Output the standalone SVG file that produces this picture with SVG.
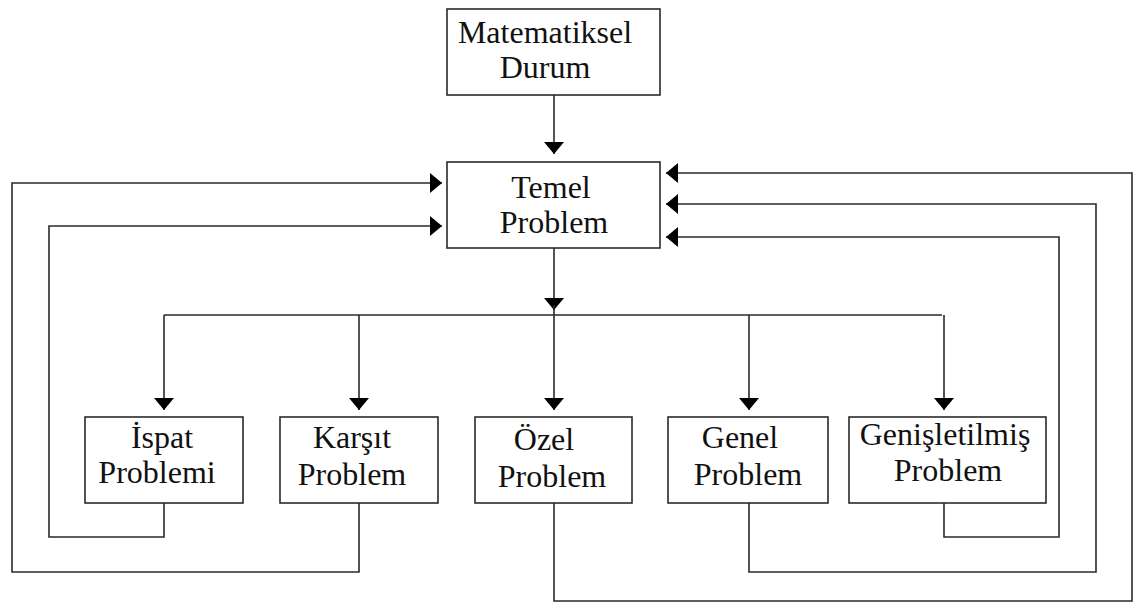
<svg xmlns="http://www.w3.org/2000/svg" width="1140" height="603" viewBox="0 0 1140 603">
<style>
.box{fill:#fff;stroke:#2a2a2a;stroke-width:1.6}
.ln{fill:none;stroke:#2a2a2a;stroke-width:1.6}
.t{font-family:"Liberation Serif","Times New Roman",serif;font-size:32px;fill:#111;text-anchor:middle}
</style>
<defs>
<marker id="ah" markerUnits="userSpaceOnUse" markerWidth="12" markerHeight="20" refX="12" refY="10" orient="auto" viewBox="0 0 12 20">
<path d="M0,0 L12,10 L0,20 z" fill="#000"/>
</marker>
</defs>
<rect width="1140" height="603" fill="#fff"/>
<g id="connectors">
<path class="ln" d="M554,95 V154" marker-end="url(#ah)"/>
<path class="ln" d="M554,248 V310" marker-end="url(#ah)"/>
<path class="ln" d="M554,305 V315"/>
<path class="ln" d="M164,315 H942"/>
<path class="ln" d="M164,315 V410" marker-end="url(#ah)"/>
<path class="ln" d="M359,315 V410" marker-end="url(#ah)"/>
<path class="ln" d="M554,315 V410" marker-end="url(#ah)"/>
<path class="ln" d="M749,315 V410" marker-end="url(#ah)"/>
<path class="ln" d="M944,315 V410" marker-end="url(#ah)"/>
<path class="ln" d="M164,503 V537 H49 V226 H442" marker-end="url(#ah)"/>
<path class="ln" d="M359,503 V572 H12 V183 H442" marker-end="url(#ah)"/>
<path class="ln" d="M554,503 V601 H1132 V173 H666" marker-end="url(#ah)"/>
<path class="ln" d="M749,503 V572 H1096 V204 H666" marker-end="url(#ah)"/>
<path class="ln" d="M944,503 V537 H1059 V237 H666" marker-end="url(#ah)"/>
</g>
<g id="matematiksel">
<rect class="box" x="447" y="9" width="213" height="86"/>
<text class="t" x="545" y="43">Matematiksel</text>
<text class="t" x="545" y="78">Durum</text>
</g>
<g id="temel">
<rect class="box" x="447" y="162" width="213" height="86"/>
<text class="t" x="551" y="198">Temel</text>
<text class="t" x="554" y="233">Problem</text>
</g>
<g id="ispat">
<rect class="box" x="85" y="417" width="158" height="86"/>
<text class="t" x="162" y="448">İspat</text>
<text class="t" x="157" y="483">Problemi</text>
</g>
<g id="karsit">
<rect class="box" x="280" y="417" width="158" height="86"/>
<text class="t" x="352" y="448">Karşıt</text>
<text class="t" x="352" y="485">Problem</text>
</g>
<g id="ozel">
<rect class="box" x="475" y="417" width="157" height="86"/>
<text class="t" x="544" y="450">Özel</text>
<text class="t" x="552" y="487">Problem</text>
</g>
<g id="genel">
<rect class="box" x="668" y="417" width="160" height="86"/>
<text class="t" x="740" y="448">Genel</text>
<text class="t" x="748" y="485">Problem</text>
</g>
<g id="genisletilmis">
<rect class="box" x="849" y="417" width="197" height="86"/>
<text class="t" x="945" y="445">Genişletilmiş</text>
<text class="t" x="948" y="481">Problem</text>
</g>
</svg>
